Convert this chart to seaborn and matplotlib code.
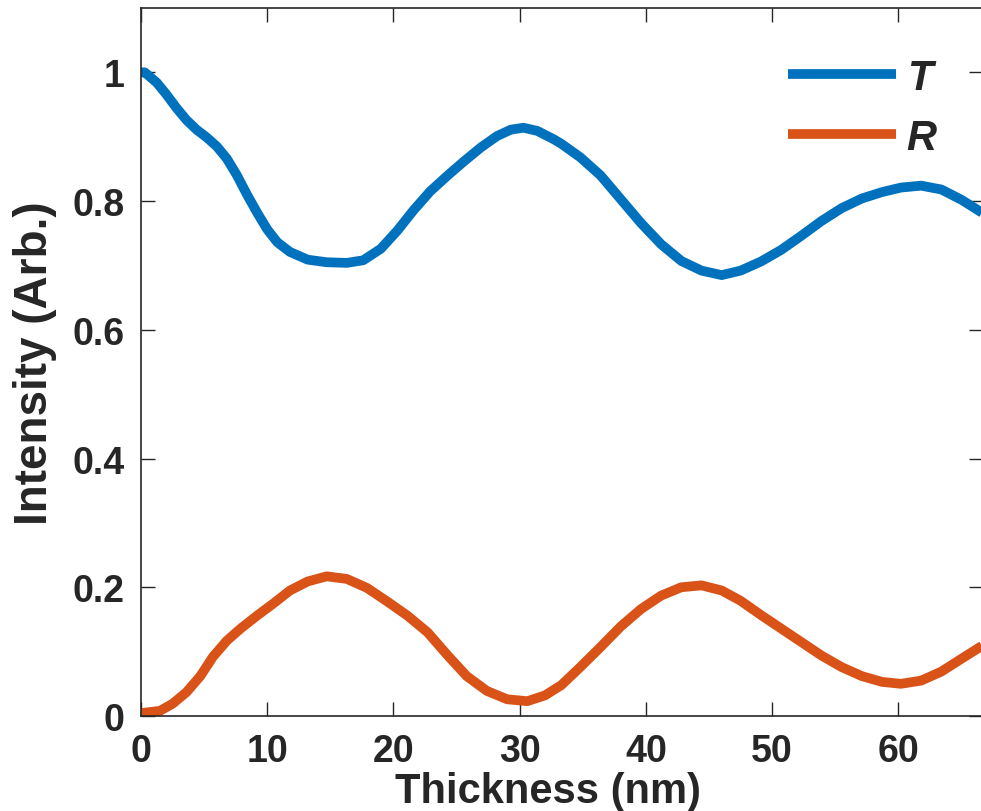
import seaborn as sns
import matplotlib.pyplot as plt
import pandas as pd

# values
t_thickness = [0, 0.3, 1.25, 2.0, 2.8, 3.6, 4.4, 5.2, 6.0, 6.8, 7.6, 8.4, 9.2,
               10.0, 10.8, 11.8, 13.2, 14.7, 16.3, 17.6, 19.0, 20.3, 21.6,
               22.9, 24.3, 25.6, 26.9, 28.2, 29.3, 30.3, 31.4, 32.7, 33.3,
               34.8, 36.4, 38.0, 39.6, 41.2, 42.8, 44.4, 46.0, 47.5, 49.1,
               50.7, 52.3, 53.9, 55.5, 57.1, 58.7, 60.2, 61.8, 63.4, 65.0, 66.7]
t_intensity = [1.0, 1.0, 0.984, 0.966, 0.945, 0.926, 0.911, 0.899, 0.885,
               0.866, 0.840, 0.810, 0.782, 0.756, 0.736, 0.721, 0.709, 0.705,
               0.704, 0.708, 0.726, 0.754, 0.786, 0.815, 0.840, 0.862, 0.883,
               0.901, 0.911, 0.914, 0.909, 0.896, 0.889, 0.868, 0.840, 0.803,
               0.766, 0.733, 0.707, 0.692, 0.685, 0.692, 0.706, 0.724, 0.746,
               0.769, 0.789, 0.804, 0.814, 0.821, 0.824, 0.818, 0.802, 0.781]

r_thickness = [0, 0.2, 1.5, 2.5, 3.6, 4.7, 5.7, 6.8, 7.9, 9.2, 10.5, 11.8,
               13.2, 14.7, 16.3, 17.9, 19.5, 21.1, 22.7, 24.3, 25.8, 27.4,
               29.0, 30.6, 32.0, 33.3, 34.8, 36.4, 38.0, 39.6, 41.2, 42.8,
               44.4, 46.0, 47.5, 49.1, 50.7, 52.3, 53.9, 55.5, 57.1, 58.7,
               60.2, 61.8, 63.4, 65.0, 66.7]
r_intensity = [0.004, 0.005, 0.008, 0.019, 0.037, 0.062, 0.092, 0.117, 0.136,
               0.156, 0.175, 0.195, 0.209, 0.217, 0.213, 0.199, 0.178, 0.156,
               0.130, 0.094, 0.062, 0.039, 0.026, 0.023, 0.032, 0.048, 0.076,
               0.107, 0.139, 0.166, 0.187, 0.200, 0.203, 0.195, 0.179, 0.157,
               0.136, 0.115, 0.094, 0.076, 0.062, 0.053, 0.050, 0.055, 0.069,
               0.089, 0.110]

x_ticks = [0, 10, 20, 30, 40, 50, 60]
y_ticks = [0, 0.2, 0.4, 0.6, 0.8, 1]

blue = "#0072BD"
orange = "#D95319"
dark = "#262626"

sns.set_style("ticks")
plt.rcParams['font.family'] = ['Liberation Sans', 'DejaVu Sans']
plt.rcParams['font.weight'] = 'bold'

df = pd.concat([
    pd.DataFrame({"Thickness": t_thickness, "Intensity": t_intensity, "curve": "T"}),
    pd.DataFrame({"Thickness": r_thickness, "Intensity": r_intensity, "curve": "R"}),
])

fig = plt.figure(figsize=(9.81, 8.12), dpi=100)
ax = fig.add_axes([141 / 981, 95 / 812, 842 / 981, 708 / 812])

sns.lineplot(data=df, x="Thickness", y="Intensity", hue="curve",
             palette={"T": blue, "R": orange}, linewidth=7, ax=ax,
             sort=False, estimator=None, solid_joinstyle="round",
             solid_capstyle="butt")

ax.set_xlim(0, 66.7)
ax.set_ylim(0, 1.1)
ax.set_xticks(x_ticks)
ax.set_yticks(y_ticks)
ax.set_xticklabels([f"{v:g}" for v in x_ticks])
ax.set_yticklabels([f"{v:g}" for v in y_ticks])
ax.tick_params(direction="in", top=True, right=True, length=10, width=1,
               labelsize=27, colors=dark, pad=12)
for lab in ax.get_xticklabels() + ax.get_yticklabels():
    lab.set_fontweight("bold")
for s in ax.spines.values():
    s.set_color(dark)
    s.set_linewidth(1.2)

ax.set_xlabel("Thickness (nm)", fontsize=30, fontweight="bold", color=dark)
ax.xaxis.set_label_coords(0.483, -0.077)
ax.set_ylabel("Intensity (Arb.)", fontsize=33, fontweight="bold", color=dark, labelpad=11)

leg = ax.legend(loc="upper right", bbox_to_anchor=(0.945, 0.93), frameon=False,
                handlelength=2.6, handletextpad=0.25, labelspacing=0.48,
                borderpad=0, borderaxespad=0,
                prop={"style": "italic", "weight": "bold", "size": 30})
for line in leg.get_lines():
    line.set_linewidth(7)
    line.set_solid_capstyle("butt")

fig.savefig("out.png", dpi=100)
